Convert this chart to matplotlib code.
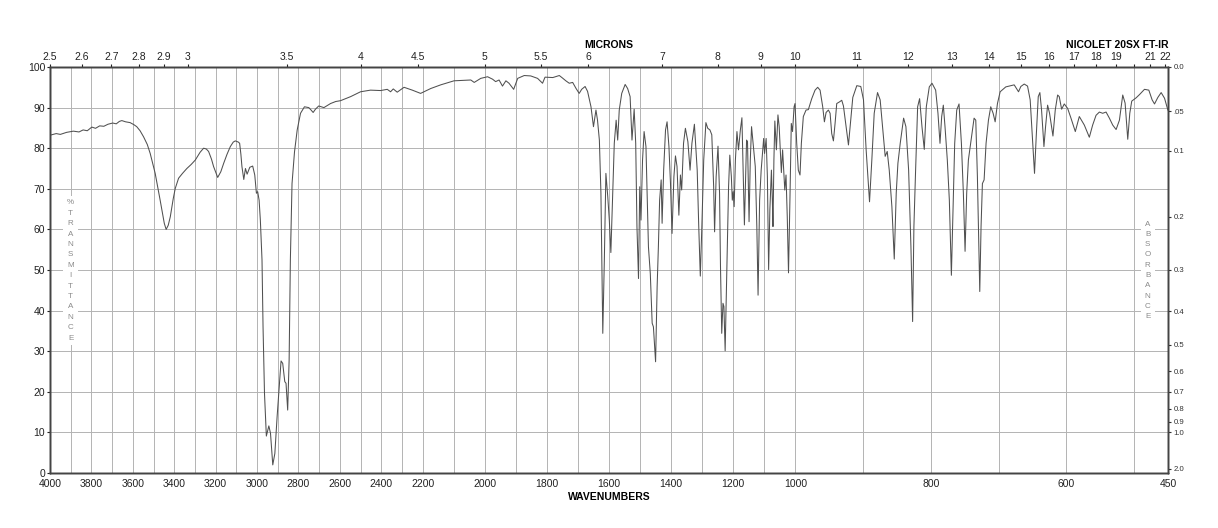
import numpy as np
import matplotlib
matplotlib.use('Agg')
import matplotlib.pyplot as plt
from matplotlib.patches import Rectangle

plt.rcParams['font.family'] = ['Liberation Sans', 'DejaVu Sans']

# spectrum (wavenumber cm-1, % transmittance)
wn_high = [4000, 3970, 3950, 3920, 3887, 3860, 3840, 3820, 3798, 3780, 3760, 3740, 3720, 3697,
           3680, 3665, 3653, 3635, 3613, 3595, 3581, 3565, 3548, 3530, 3516, 3492, 3468, 3448,
           3439, 3429, 3419, 3405, 3395, 3379, 3360, 3339, 3318, 3298, 3275, 3258, 3245, 3234,
           3220, 3210, 3190, 3175, 3161, 3145, 3129, 3115, 3105, 3090, 3084, 3078, 3073, 3064,
           3056, 3048, 3035, 3021, 3011, 3003, 2997, 2990, 2984, 2976, 2971, 2964, 2955, 2948,
           2943, 2935, 2924, 2914, 2903, 2893, 2884, 2876, 2866, 2860, 2852, 2845, 2839, 2831,
           2819, 2806, 2790, 2771, 2750, 2739, 2729, 2718, 2702, 2677, 2645, 2620, 2597, 2548,
           2500, 2452, 2403, 2371, 2355, 2342, 2323, 2290, 2250, 2210]
t_high = [83.2, 83.6, 83.4, 83.9, 84.2, 84.0, 84.5, 84.3, 85.2, 84.9, 85.5, 85.4, 85.9, 86.2,
          86.0, 86.6, 86.8, 86.5, 86.3, 85.8, 85.3, 84.3, 82.8, 80.9, 78.7, 73.8, 67.2, 61.5,
          60.0, 61.0, 63.1, 67.5, 70.1, 72.6, 73.8, 75.0, 76.0, 77.1, 79.0, 80.0, 79.8, 79.2,
          77.3, 75.5, 72.8, 74.2, 76.3, 78.5, 80.4, 81.5, 81.8, 81.5, 81.2, 78.5, 75.5, 72.3,
          75.0, 73.6, 75.3, 75.6, 73.4, 68.9, 69.3, 67.2, 62.3, 52.5, 36.0, 19.6, 9.1, 10.6,
          11.6, 9.8, 2.0, 4.8, 13.9, 21.3, 27.6, 27.0, 22.5, 22.1, 15.5, 27.8, 52.5, 71.3,
          79.1, 84.5, 88.6, 90.2, 90.0, 89.4, 88.8, 89.6, 90.4, 90.0, 91.0, 91.5, 91.7, 92.7,
          93.9, 94.3, 94.2, 94.5, 93.9, 94.6, 93.8, 95.0, 94.3, 93.5]

wn_mid = [2174, 2142, 2099, 2045, 2034, 2013, 1991, 1975, 1965, 1954, 1943, 1932, 1922, 1907,
          1894, 1873, 1852, 1830, 1814, 1806, 1781, 1760, 1750, 1739, 1728, 1717, 1706, 1696,
          1688, 1677, 1669, 1658, 1650, 1642, 1637, 1631, 1626, 1620, 1615, 1610, 1604, 1599,
          1594, 1588, 1583, 1577, 1572, 1567, 1559, 1548, 1540, 1532, 1526, 1519, 1514, 1510,
          1505, 1501, 1497, 1492, 1487, 1481, 1473, 1467, 1461, 1457, 1450, 1445, 1441, 1437,
          1432, 1429, 1424, 1418, 1413, 1407, 1402, 1397, 1391, 1386, 1381, 1375, 1370, 1366,
          1360, 1354, 1346, 1339, 1333, 1325, 1316, 1311, 1306, 1301, 1295, 1288, 1282, 1275,
          1269, 1263, 1260, 1255, 1249, 1244, 1241, 1237, 1233, 1230, 1226, 1220, 1215, 1211,
          1206, 1203, 1200, 1197, 1193, 1188, 1183, 1177, 1172, 1168, 1164, 1160, 1157, 1154,
          1149, 1145, 1141, 1136, 1129, 1124, 1120, 1115, 1110, 1102, 1099, 1094, 1090, 1086,
          1082, 1077, 1074, 1072, 1069, 1066, 1061, 1056, 1052, 1045, 1041, 1034, 1030, 1026,
          1022, 1017, 1013, 1009, 1004, 1001]
t_mid = [94.7, 95.6, 96.6, 96.8, 96.2, 97.2, 97.6, 97.0, 96.4, 96.8, 95.3, 96.6, 96.0, 94.5,
         97.2, 97.9, 97.8, 97.2, 96.0, 97.5, 97.4, 97.9, 97.3, 96.6, 96.0, 96.2, 94.7, 93.5,
         94.5, 95.2, 94.0, 90.2, 85.3, 89.4, 86.9, 82.0, 68.9, 34.4, 52.5, 73.8, 68.1, 62.3,
         54.3, 68.9, 81.2, 86.9, 82.0, 89.4, 93.5, 95.7, 94.7, 92.7, 82.0, 89.6, 81.2, 60.7,
         47.9, 70.5, 62.3, 77.1, 84.1, 80.4, 55.7, 49.1, 36.9, 36.0, 27.4, 45.9, 55.7, 67.2,
         72.2, 61.5, 74.6, 84.5, 86.5, 80.4, 71.3, 59.0, 73.0, 78.1, 75.5, 63.5, 73.4, 69.7,
         81.2, 84.9, 81.6, 74.6, 81.2, 85.9, 74.6, 60.7, 48.5, 60.7, 77.1, 86.3, 84.9, 84.5,
         83.3, 70.5, 59.4, 73.0, 80.5, 68.9, 50.8, 34.4, 41.8, 41.0, 30.1, 52.5, 70.5, 78.3,
         73.0, 67.2, 69.3, 65.6, 77.1, 84.1, 79.6, 84.5, 87.5, 73.8, 61.1, 73.0, 82.0, 81.6,
         61.9, 77.1, 85.3, 81.2, 75.5, 60.7, 43.8, 67.2, 74.6, 82.4, 78.7, 82.4, 73.0, 50.1,
         64.8, 74.6, 67.2, 60.7, 77.1, 86.7, 79.6, 88.2, 85.3, 74.0, 79.6, 69.7, 73.4, 63.1,
         49.3, 68.9, 86.1, 84.1, 90.2, 91.0]

wn_low = [998.0, 995.6, 993.1, 991.1, 988.2, 984.2, 980.8, 975.8, 970.9, 967.0, 963.5, 959.6,
          957.1, 954.6, 951.2, 948.7, 946.3, 943.8, 941.3, 938.9, 934.9, 931.5, 929.0, 925.0,
          921.6, 919.1, 915.2, 909.3, 903.4, 899.4, 895.5, 890.5, 887.1, 883.6, 878.7, 874.8,
          870.8, 867.4, 864.4, 861.4, 857.5, 854.0, 851.1, 848.6, 845.2, 840.2, 836.8, 832.8,
          829.4, 826.9, 825.0, 822.5, 819.5, 816.6, 813.1, 809.7, 806.7, 802.3, 798.3, 792.9,
          789.5, 786.5, 784.0, 781.6, 779.1, 775.7, 772.7, 769.7, 767.3, 764.8, 761.8, 758.4,
          754.9, 752.0, 749.5, 747.1, 744.6, 740.2, 736.2, 733.7, 731.3, 729.3, 727.8, 725.9,
          723.9, 721.4, 718.5, 715.0, 711.6, 708.1, 705.1, 701.7, 697.7, 689.4, 677.0, 670.6,
          667.2, 662.2, 657.3, 653.4, 649.9, 647.0, 644.5, 641.5, 639.1, 636.6, 633.1, 630.7,
          627.7, 624.8, 619.8, 616.4, 612.9, 610.5, 607.0, 603.1, 598.1, 593.2, 586.8, 580.9,
          573.5, 566.1, 561.2, 556.2, 551.3, 546.4, 541.4, 536.5, 531.6, 526.6, 521.7, 516.8,
          513.3, 509.4, 506.4, 503.5, 497.1, 492.1, 484.7, 478.3, 473.4, 469.9, 465.0, 460.1,
          455.1, 450.2]
t_low = [81.3, 74.6, 73.4, 81.2, 87.8, 89.4, 89.5, 92.2, 94.3, 95.0, 94.3, 90.2,
         86.5, 88.8, 89.4, 88.6, 83.6, 81.8, 86.2, 91.0, 91.4, 91.8, 90.4, 85.3,
         80.8, 85.3, 92.5, 95.4, 95.2, 91.9, 79.6, 66.8, 77.1, 88.6, 93.7, 91.9,
         84.5, 78.0, 79.2, 74.6, 65.6, 52.7, 68.9, 76.3, 81.2, 87.4, 85.3, 74.6,
         55.7, 37.3, 60.7, 74.6, 90.2, 92.2, 85.3, 79.7, 90.2, 95.1, 96.0, 94.3,
         88.6, 81.2, 87.8, 90.6, 85.3, 77.1, 67.2, 48.7, 64.8, 81.2, 89.4, 90.9,
         81.2, 68.9, 54.6, 68.9, 77.1, 82.4, 87.4, 86.9, 73.0, 56.6, 44.7, 60.7,
         71.3, 72.2, 81.2, 86.9, 90.2, 88.6, 86.5, 91.0, 93.9, 95.1, 95.6, 93.9,
         95.2, 95.8, 95.3, 91.9, 82.0, 73.8, 82.8, 92.7, 93.7, 89.4, 80.4, 85.3,
         90.6, 88.6, 83.0, 89.4, 93.1, 92.7, 89.6, 90.9, 89.8, 87.4, 84.1, 87.8,
         85.7, 82.7, 85.7, 88.1, 88.9, 88.6, 88.9, 87.4, 85.7, 84.6, 86.9, 93.1,
         91.1, 82.2, 88.6, 91.6, 92.4, 93.2, 94.5, 94.3, 91.9, 90.9, 92.5, 93.7,
         92.3, 89.4]

wn_labels = [4000, 3800, 3600, 3400, 3200, 3000, 2800, 2600, 2400, 2200, 2000,
             1800, 1600, 1400, 1200, 1000, 800, 600, 450]
micron_ticks = [2.5, 2.6, 2.7, 2.8, 2.9, 3, 3.5, 4, 4.5, 5, 5.5, 6, 7, 8, 9, 10,
                11, 12, 13, 14, 15, 16, 17, 18, 19, 20, 21, 22]
micron_labels = ['2.5', '2.6', '2.7', '2.8', '2.9', '3', '3.5', '4', '4.5', '5', '5.5',
                 '6', '7', '8', '9', '10', '11', '12', '13', '14', '15', '16', '17',
                 '18', '19', '', '21', '22']
abs_ticks = [0.0, 0.05, 0.1, 0.2, 0.3, 0.4, 0.5, 0.6, 0.7, 0.8, 0.9, 1.0, 2.0]
abs_labels = ['0.0', '.05', '0.1', '0.2', '0.3', '0.4', '0.5', '0.6', '0.7', '0.8',
              '0.9', '1.0', '2.0']

# three equal-width panels: 4000-2200, 2200-1000, 1000-450
breaks_wn = [450, 1000, 2200, 4000]
breaks_u = [0, 1, 2, 3]


def fwd(w):
    return np.interp(np.asarray(w, dtype=float), breaks_wn, breaks_u)


def inv(u):
    return np.interp(np.asarray(u, dtype=float), breaks_u, breaks_wn)


wn = np.concatenate([wn_high, wn_mid, wn_low])
trans = np.concatenate([t_high, t_mid, t_low])

W, H = 1218, 528
fig = plt.figure(figsize=(W / 100, H / 100), dpi=100)
ax = fig.add_axes([50 / W, 55 / H, 1118 / W, 406 / H])
ax.set_xscale('function', functions=(fwd, inv))
ax.set_xlim(4000, 450)
ax.set_ylim(0, 100)

grid_c = '#b3b3b3'
for g in range(3900, 450, -100):
    ax.axvline(g, color=grid_c, lw=0.7, zorder=0.5)
for g in range(10, 100, 10):
    ax.axhline(g, color=grid_c, lw=0.7, zorder=0.5)

ax.plot(wn, trans, color='#505050', lw=0.75, zorder=3)

ax.set_xticks(wn_labels)
ax.set_xticklabels([str(v) for v in wn_labels])
ax.xaxis.set_minor_locator(matplotlib.ticker.NullLocator())
ax.set_yticks(range(0, 101, 10))
ax.tick_params(axis='x', length=0, pad=4, labelsize=7.5, colors='#222222')
ax.tick_params(axis='y', length=2, pad=1.5, labelsize=7.5, colors='#222222')

for s in ax.spines.values():
    s.set_color('#444444')
    s.set_linewidth(1.0)

# stacked axis captions, with white boxes over the grid
ax.add_patch(Rectangle((13 / 1118, 128 / 406), 15 / 1118, 149 / 406,
                       transform=ax.transAxes, facecolor='white', edgecolor='none', zorder=1))
ax.add_patch(Rectangle((1091 / 1118, 148 / 406), 14 / 1118, 108 / 406,
                       transform=ax.transAxes, facecolor='white', edgecolor='none', zorder=1))
for i, ch in enumerate('%TRANSMITTANCE'):
    ax.text(20.7 / 1118, (270 - i * 10.4) / 406, ch, transform=ax.transAxes,
            ha='center', va='center', fontsize=5.8, color='#8a8a8a', zorder=2)
for i, ch in enumerate('ABSORBANCE'):
    ax.text(1097.7 / 1118, (249 - i * 10.3) / 406, ch, transform=ax.transAxes,
            ha='center', va='center', fontsize=5.8, color='#8a8a8a', zorder=2)

# top axis in microns
axt = ax.twiny()
axt.set_xscale('function', functions=(fwd, inv))
axt.set_xlim(4000, 450)
axt.set_xticks([10000 / m for m in micron_ticks])
axt.set_xticklabels(micron_labels)
axt.xaxis.set_minor_locator(matplotlib.ticker.NullLocator())
axt.tick_params(axis='x', length=2.5, pad=1.2, labelsize=7.5, colors='#222222')

# right axis in absorbance
axr = ax.twinx()
axr.set_ylim(0, 100)
axr.set_yticks([100 * 10 ** (-a) for a in abs_ticks])
axr.set_yticklabels(abs_labels)
axr.tick_params(axis='y', length=2.5, pad=1.5, labelsize=5.6, colors='#333333')
for a in (axt, axr):
    for s in a.spines.values():
        s.set_color('#444444')
        s.set_linewidth(1.0)

fig.text(0.5, 1 - 44.7 / H, 'MICRONS', ha='center', va='center',
         fontsize=7.5, fontweight='bold')
fig.text(1169 / W, 1 - 44.7 / H, 'NICOLET 20SX FT-IR', ha='right', va='center',
         fontsize=7.5, fontweight='bold')
fig.text(0.5, 1 - 496.7 / H, 'WAVENUMBERS', ha='center', va='center',
         fontsize=7.5, fontweight='bold')

fig.savefig('out.png', dpi=100)
